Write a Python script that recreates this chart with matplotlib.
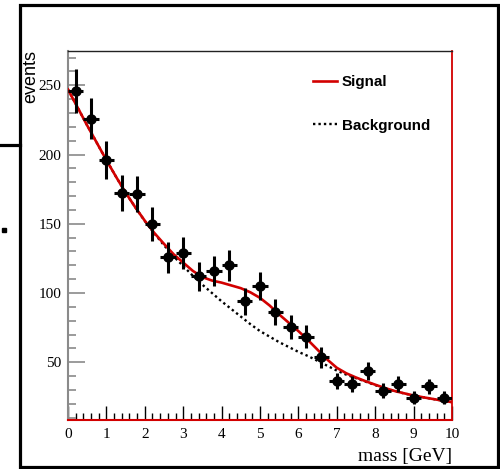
import numpy as np
import matplotlib
matplotlib.use("Agg")
import matplotlib.pyplot as plt
from matplotlib.lines import Line2D
from matplotlib.patches import Rectangle
from matplotlib.ticker import MultipleLocator

# ---- data ----
mass = [0.2, 0.6, 1.0, 1.4, 1.8, 2.2, 2.6, 3.0, 3.4, 3.8, 4.2, 4.6, 5.0,
        5.4, 5.8, 6.2, 6.6, 7.0, 7.4, 7.8, 8.2, 8.6, 9.0, 9.4, 9.8]
events = [246, 226, 196, 172, 171.5, 150, 126, 129, 112, 116, 120, 94, 105,
          86.5, 75.5, 68.5, 53.5, 36.5, 34, 43.5, 29.5, 34.5, 24.5, 32.5, 24.5]
errors = [15.7, 15.0, 14.0, 13.1, 13.1, 12.2, 11.2, 11.4, 10.6, 10.8, 11.0, 9.7, 10.2,
          9.3, 8.7, 8.3, 7.3, 6.0, 5.8, 6.6, 5.4, 5.9, 5.0, 5.7, 5.0]
bin_half_width = 0.2

curve_x = [0, 0.25, 0.5, 0.75, 1.0, 1.25, 1.5, 1.75, 2.0, 2.25, 2.5, 2.75, 3.0,
           3.25, 3.5, 3.75, 4.0, 4.25, 4.5, 4.75, 5.0, 5.25, 5.5, 5.75, 6.0,
           6.25, 6.5, 6.75, 7.0, 7.25, 7.5, 7.75, 8.0, 8.25, 8.5, 8.75, 9.0,
           9.25, 9.5, 9.75, 10.0]
background = [247, 234, 221, 208.5, 196, 184, 172.5, 162, 152, 143, 134.5, 126.5, 119.5,
              112.5, 106, 100, 94, 88.5, 83, 77.5, 72.5, 68.5, 64.5, 61, 57.5,
              54.5, 51, 47.5, 44, 41, 38.5, 36, 33.5, 31.2, 29.2, 27.5, 26,
              24.7, 23.5, 22.3, 21.2]
signal = [247, 234, 221, 208.5, 196, 184, 172.5, 162, 152.2, 143.3, 135.5, 128, 122,
          116, 111.5, 109, 107.5, 105.5, 103.5, 100.5, 96.5, 91, 84.5, 78.5, 72.5,
          66, 59, 52, 46, 42, 39, 36.3, 33.8, 31.4, 29.3, 27.6, 26,
          24.7, 23.5, 22.3, 21.2]

x_range = (0, 10)
y_range = (8.3, 275)

serif = ['Liberation Serif', 'DejaVu Serif']
sans = ['Liberation Sans', 'DejaVu Sans']
RED = '#d20000'

fig = plt.figure(figsize=(5.0, 4.69), dpi=100)
ax = fig.add_axes([68 / 500, 1 - 420 / 469, 384 / 500, 369.3 / 469])

bg_line, = ax.plot(curve_x, background, color='black', ls=(0, (1, 1.3)), lw=1.7,
                   zorder=2, label='Background')
sig_line, = ax.plot(curve_x, signal, color=RED, lw=1.9, zorder=3, label='Signal')
ax.errorbar(mass, events, yerr=errors, xerr=bin_half_width, fmt='o', color='black',
            ms=6.5, elinewidth=2.2, capsize=0, zorder=4)

ax.set_xlim(*x_range)
ax.set_ylim(*y_range)

ax.xaxis.set_major_locator(MultipleLocator(1))
ax.xaxis.set_minor_locator(MultipleLocator(0.2))
ax.yaxis.set_major_locator(MultipleLocator(50))
ax.yaxis.set_minor_locator(MultipleLocator(10))

ax.tick_params(axis='x', which='both', direction='in', color='black', width=1,
               top=False, labelsize=11, pad=6)
ax.tick_params(axis='x', which='major', length=10)
ax.tick_params(axis='x', which='minor', length=5)
ax.tick_params(axis='y', which='both', direction='in', color='#8a8a8a', width=1.2,
               right=False, labelsize=11, pad=5)
ax.tick_params(axis='y', which='major', length=12)
ax.tick_params(axis='y', which='minor', length=6)
for lab in ax.get_xticklabels() + ax.get_yticklabels():
    lab.set_family(serif)

ax.spines['left'].set_color('#8a8a8a')
ax.spines['left'].set_linewidth(1.5)
ax.spines['bottom'].set_color(RED)
ax.spines['bottom'].set_linewidth(1.5)
ax.spines['right'].set_color(RED)
ax.spines['right'].set_linewidth(1.3)
ax.spines['top'].set_color('#222222')
ax.spines['top'].set_linewidth(1.0)

ax.set_xlabel('mass [GeV]', loc='right', fontsize=14, family=serif, va='center')
ax.xaxis.set_label_coords(1.0, -(456 - 420) / 369.3)
fig.text(31 / 500, 1 - 50 / 469, 'events', rotation=90, ha='center', va='top',
         fontsize=13, family=sans)

leg = ax.legend(handles=[sig_line, bg_line], loc='upper left',
                bbox_to_anchor=((307 - 68) / 384, (420 - 69) / 369.3),
                frameon=False, handlelength=1.55, handletextpad=0.35,
                labelspacing=1.95, borderaxespad=0,
                prop={'family': sans, 'weight': 'bold', 'size': 10.9})

# outer frame and edge marks of the picture
fig.add_artist(Rectangle((20 / 500, 2 / 469), 478 / 500, 462 / 469, fill=False,
                         edgecolor='black', lw=2.3, transform=fig.transFigure))
fig.add_artist(Line2D([0, 20 / 500], [1 - 145 / 469] * 2, color='black', lw=2.3,
                      transform=fig.transFigure))
fig.add_artist(Line2D([4 / 500], [1 - 230 / 469], marker='s', ms=2.5, color='black',
                      transform=fig.transFigure))

fig.savefig('out.png', dpi=100)
